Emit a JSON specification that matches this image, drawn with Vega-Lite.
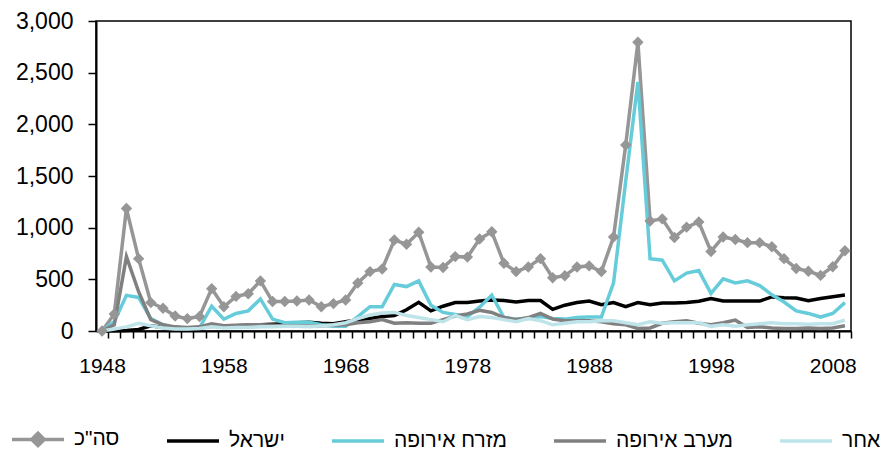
{
  "$schema": "https://vega.github.io/schema/vega-lite/v6.json",
  "width": 755,
  "height": 310,
  "autosize": {"type": "none"},
  "padding": {"left": 96, "top": 21, "right": 38, "bottom": 127},
  "background": "white",
  "config": {
    "font": "Liberation Sans",
    "view": {"stroke": "#000000", "strokeWidth": 1.5}
  },
  "data": {"values": [
    {"year":1948,"series":"סה\"כ","value":0},{"year":1949,"series":"סה\"כ","value":165},{"year":1950,"series":"סה\"כ","value":1185},{"year":1951,"series":"סה\"כ","value":700},{"year":1952,"series":"סה\"כ","value":275},{"year":1953,"series":"סה\"כ","value":220},{"year":1954,"series":"סה\"כ","value":145},{"year":1955,"series":"סה\"כ","value":120},{"year":1956,"series":"סה\"כ","value":140},{"year":1957,"series":"סה\"כ","value":410},
    {"year":1958,"series":"סה\"כ","value":235},{"year":1959,"series":"סה\"כ","value":335},{"year":1960,"series":"סה\"כ","value":360},{"year":1961,"series":"סה\"כ","value":485},{"year":1962,"series":"סה\"כ","value":285},{"year":1963,"series":"סה\"כ","value":285},{"year":1964,"series":"סה\"כ","value":290},{"year":1965,"series":"סה\"כ","value":300},{"year":1966,"series":"סה\"כ","value":235},{"year":1967,"series":"סה\"כ","value":265},
    {"year":1968,"series":"סה\"כ","value":300},{"year":1969,"series":"סה\"כ","value":465},{"year":1970,"series":"סה\"כ","value":575},{"year":1971,"series":"סה\"כ","value":600},{"year":1972,"series":"סה\"כ","value":880},{"year":1973,"series":"סה\"כ","value":840},{"year":1974,"series":"סה\"כ","value":955},{"year":1975,"series":"סה\"כ","value":620},{"year":1976,"series":"סה\"כ","value":615},{"year":1977,"series":"סה\"כ","value":720},
    {"year":1978,"series":"סה\"כ","value":715},{"year":1979,"series":"סה\"כ","value":890},{"year":1980,"series":"סה\"כ","value":960},{"year":1981,"series":"סה\"כ","value":655},{"year":1982,"series":"סה\"כ","value":575},{"year":1983,"series":"סה\"כ","value":620},{"year":1984,"series":"סה\"כ","value":700},{"year":1985,"series":"סה\"כ","value":515},{"year":1986,"series":"סה\"כ","value":535},{"year":1987,"series":"סה\"כ","value":620},
    {"year":1988,"series":"סה\"כ","value":630},{"year":1989,"series":"סה\"כ","value":575},{"year":1990,"series":"סה\"כ","value":910},{"year":1991,"series":"סה\"כ","value":1800},{"year":1992,"series":"סה\"כ","value":2795},{"year":1993,"series":"סה\"כ","value":1065},{"year":1994,"series":"סה\"כ","value":1085},{"year":1995,"series":"סה\"כ","value":905},{"year":1996,"series":"סה\"כ","value":1005},{"year":1997,"series":"סה\"כ","value":1055},
    {"year":1998,"series":"סה\"כ","value":770},{"year":1999,"series":"סה\"כ","value":910},{"year":2000,"series":"סה\"כ","value":885},{"year":2001,"series":"סה\"כ","value":855},{"year":2002,"series":"סה\"כ","value":855},{"year":2003,"series":"סה\"כ","value":815},{"year":2004,"series":"סה\"כ","value":700},{"year":2005,"series":"סה\"כ","value":605},{"year":2006,"series":"סה\"כ","value":578},{"year":2007,"series":"סה\"כ","value":538},
    {"year":2008,"series":"סה\"כ","value":622},{"year":2009,"series":"סה\"כ","value":776},

    {"year":1948,"series":"ישראל","value":0},{"year":1949,"series":"ישראל","value":3},{"year":1950,"series":"ישראל","value":5},{"year":1951,"series":"ישראל","value":15},{"year":1952,"series":"ישראל","value":50},{"year":1953,"series":"ישראל","value":35},{"year":1954,"series":"ישראל","value":30},{"year":1955,"series":"ישראל","value":25},{"year":1956,"series":"ישראל","value":30},{"year":1957,"series":"ישראל","value":45},
    {"year":1958,"series":"ישראל","value":45},{"year":1959,"series":"ישראל","value":50},{"year":1960,"series":"ישראל","value":55},{"year":1961,"series":"ישראל","value":60},{"year":1962,"series":"ישראל","value":65},{"year":1963,"series":"ישראל","value":70},{"year":1964,"series":"ישראל","value":80},{"year":1965,"series":"ישראל","value":85},{"year":1966,"series":"ישראל","value":75},{"year":1967,"series":"ישראל","value":70},
    {"year":1968,"series":"ישראל","value":90},{"year":1969,"series":"ישראל","value":110},{"year":1970,"series":"ישראל","value":120},{"year":1971,"series":"ישראל","value":140},{"year":1972,"series":"ישראל","value":150},{"year":1973,"series":"ישראל","value":205},{"year":1974,"series":"ישראל","value":278},{"year":1975,"series":"ישראל","value":195},{"year":1976,"series":"ישראל","value":240},{"year":1977,"series":"ישראל","value":275},
    {"year":1978,"series":"ישראל","value":275},{"year":1979,"series":"ישראל","value":290},{"year":1980,"series":"ישראל","value":300},{"year":1981,"series":"ישראל","value":295},{"year":1982,"series":"ישראל","value":280},{"year":1983,"series":"ישראל","value":295},{"year":1984,"series":"ישראל","value":295},{"year":1985,"series":"ישראל","value":210},{"year":1986,"series":"ישראל","value":250},{"year":1987,"series":"ישראל","value":275},
    {"year":1988,"series":"ישראל","value":290},{"year":1989,"series":"ישראל","value":255},{"year":1990,"series":"ישראל","value":275},{"year":1991,"series":"ישראל","value":235},{"year":1992,"series":"ישראל","value":275},{"year":1993,"series":"ישראל","value":255},{"year":1994,"series":"ישראל","value":272},{"year":1995,"series":"ישראל","value":272},{"year":1996,"series":"ישראל","value":275},{"year":1997,"series":"ישראל","value":288},
    {"year":1998,"series":"ישראל","value":315},{"year":1999,"series":"ישראל","value":290},{"year":2000,"series":"ישראל","value":290},{"year":2001,"series":"ישראל","value":290},{"year":2002,"series":"ישראל","value":290},{"year":2003,"series":"ישראל","value":330},{"year":2004,"series":"ישראל","value":322},{"year":2005,"series":"ישראל","value":320},{"year":2006,"series":"ישראל","value":292},{"year":2007,"series":"ישראל","value":315},
    {"year":2008,"series":"ישראל","value":332},{"year":2009,"series":"ישראל","value":348},

    {"year":1948,"series":"מזרח אירופה","value":0},{"year":1949,"series":"מזרח אירופה","value":90},{"year":1950,"series":"מזרח אירופה","value":345},{"year":1951,"series":"מזרח אירופה","value":325},{"year":1952,"series":"מזרח אירופה","value":120},{"year":1953,"series":"מזרח אירופה","value":60},{"year":1954,"series":"מזרח אירופה","value":30},{"year":1955,"series":"מזרח אירופה","value":25},{"year":1956,"series":"מזרח אירופה","value":30},{"year":1957,"series":"מזרח אירופה","value":240},
    {"year":1958,"series":"מזרח אירופה","value":115},{"year":1959,"series":"מזרח אירופה","value":170},{"year":1960,"series":"מזרח אירופה","value":195},{"year":1961,"series":"מזרח אירופה","value":310},{"year":1962,"series":"מזרח אירופה","value":115},{"year":1963,"series":"מזרח אירופה","value":80},{"year":1964,"series":"מזרח אירופה","value":85},{"year":1965,"series":"מזרח אירופה","value":85},{"year":1966,"series":"מזרח אירופה","value":60},{"year":1967,"series":"מזרח אירופה","value":45},
    {"year":1968,"series":"מזרח אירופה","value":45},{"year":1969,"series":"מזרח אירופה","value":140},{"year":1970,"series":"מזרח אירופה","value":235},{"year":1971,"series":"מזרח אירופה","value":235},{"year":1972,"series":"מזרח אירופה","value":450},{"year":1973,"series":"מזרח אירופה","value":430},{"year":1974,"series":"מזרח אירופה","value":485},{"year":1975,"series":"מזרח אירופה","value":250},{"year":1976,"series":"מזרח אירופה","value":180},{"year":1977,"series":"מזרח אירופה","value":160},
    {"year":1978,"series":"מזרח אירופה","value":140},{"year":1979,"series":"מזרח אירופה","value":230},{"year":1980,"series":"מזרח אירופה","value":348},{"year":1981,"series":"מזרח אירופה","value":130},{"year":1982,"series":"מזרח אירופה","value":115},{"year":1983,"series":"מזרח אירופה","value":120},{"year":1984,"series":"מזרח אירופה","value":140},{"year":1985,"series":"מזרח אירופה","value":120},{"year":1986,"series":"מזרח אירופה","value":115},{"year":1987,"series":"מזרח אירופה","value":130},
    {"year":1988,"series":"מזרח אירופה","value":135},{"year":1989,"series":"מזרח אירופה","value":135},{"year":1990,"series":"מזרח אירופה","value":465},{"year":1991,"series":"מזרח אירופה","value":1450},{"year":1992,"series":"מזרח אירופה","value":2410},{"year":1993,"series":"מזרח אירופה","value":700},{"year":1994,"series":"מזרח אירופה","value":685},{"year":1995,"series":"מזרח אירופה","value":485},{"year":1996,"series":"מזרח אירופה","value":560},{"year":1997,"series":"מזרח אירופה","value":585},
    {"year":1998,"series":"מזרח אירופה","value":365},{"year":1999,"series":"מזרח אירופה","value":505},{"year":2000,"series":"מזרח אירופה","value":465},{"year":2001,"series":"מזרח אירופה","value":485},{"year":2002,"series":"מזרח אירופה","value":440},{"year":2003,"series":"מזרח אירופה","value":350},{"year":2004,"series":"מזרח אירופה","value":280},{"year":2005,"series":"מזרח אירופה","value":195},{"year":2006,"series":"מזרח אירופה","value":170},{"year":2007,"series":"מזרח אירופה","value":135},
    {"year":2008,"series":"מזרח אירופה","value":170},{"year":2009,"series":"מזרח אירופה","value":275},

    {"year":1948,"series":"מערב אירופה","value":0},{"year":1949,"series":"מערב אירופה","value":60},{"year":1950,"series":"מערב אירופה","value":720},{"year":1951,"series":"מערב אירופה","value":380},{"year":1952,"series":"מערב אירופה","value":110},{"year":1953,"series":"מערב אירופה","value":60},{"year":1954,"series":"מערב אירופה","value":40},{"year":1955,"series":"מערב אירופה","value":35},{"year":1956,"series":"מערב אירופה","value":40},{"year":1957,"series":"מערב אירופה","value":70},
    {"year":1958,"series":"מערב אירופה","value":50},{"year":1959,"series":"מערב אירופה","value":55},{"year":1960,"series":"מערב אירופה","value":60},{"year":1961,"series":"מערב אירופה","value":60},{"year":1962,"series":"מערב אירופה","value":55},{"year":1963,"series":"מערב אירופה","value":50},{"year":1964,"series":"מערב אירופה","value":50},{"year":1965,"series":"מערב אירופה","value":45},{"year":1966,"series":"מערב אירופה","value":50},{"year":1967,"series":"מערב אירופה","value":55},
    {"year":1968,"series":"מערב אירופה","value":60},{"year":1969,"series":"מערב אירופה","value":80},{"year":1970,"series":"מערב אירופה","value":90},{"year":1971,"series":"מערב אירופה","value":110},{"year":1972,"series":"מערב אירופה","value":75},{"year":1973,"series":"מערב אירופה","value":80},{"year":1974,"series":"מערב אירופה","value":75},{"year":1975,"series":"מערב אירופה","value":75},{"year":1976,"series":"מערב אירופה","value":110},{"year":1977,"series":"מערב אירופה","value":145},
    {"year":1978,"series":"מערב אירופה","value":165},{"year":1979,"series":"מערב אירופה","value":200},{"year":1980,"series":"מערב אירופה","value":180},{"year":1981,"series":"מערב אירופה","value":130},{"year":1982,"series":"מערב אירופה","value":110},{"year":1983,"series":"מערב אירופה","value":130},{"year":1984,"series":"מערב אירופה","value":170},{"year":1985,"series":"מערב אירופה","value":115},{"year":1986,"series":"מערב אירופה","value":100},{"year":1987,"series":"מערב אירופה","value":100},
    {"year":1988,"series":"מערב אירופה","value":100},{"year":1989,"series":"מערב אירופה","value":90},{"year":1990,"series":"מערב אירופה","value":70},{"year":1991,"series":"מערב אירופה","value":60},{"year":1992,"series":"מערב אירופה","value":25},{"year":1993,"series":"מערב אירופה","value":30},{"year":1994,"series":"מערב אירופה","value":75},{"year":1995,"series":"מערב אירופה","value":90},{"year":1996,"series":"מערב אירופה","value":100},{"year":1997,"series":"מערב אירופה","value":75},
    {"year":1998,"series":"מערב אירופה","value":60},{"year":1999,"series":"מערב אירופה","value":80},{"year":2000,"series":"מערב אירופה","value":105},{"year":2001,"series":"מערב אירופה","value":35},{"year":2002,"series":"מערב אירופה","value":40},{"year":2003,"series":"מערב אירופה","value":30},{"year":2004,"series":"מערב אירופה","value":25},{"year":2005,"series":"מערב אירופה","value":25},{"year":2006,"series":"מערב אירופה","value":30},{"year":2007,"series":"מערב אירופה","value":25},
    {"year":2008,"series":"מערב אירופה","value":30},{"year":2009,"series":"מערב אירופה","value":50},

    {"year":1948,"series":"אחר","value":0},{"year":1949,"series":"אחר","value":20},{"year":1950,"series":"אחר","value":40},{"year":1951,"series":"אחר","value":75},{"year":1952,"series":"אחר","value":50},{"year":1953,"series":"אחר","value":30},{"year":1954,"series":"אחר","value":20},{"year":1955,"series":"אחר","value":20},{"year":1956,"series":"אחר","value":25},{"year":1957,"series":"אחר","value":40},
    {"year":1958,"series":"אחר","value":30},{"year":1959,"series":"אחר","value":35},{"year":1960,"series":"אחר","value":35},{"year":1961,"series":"אחר","value":40},{"year":1962,"series":"אחר","value":40},{"year":1963,"series":"אחר","value":45},{"year":1964,"series":"אחר","value":45},{"year":1965,"series":"אחר","value":40},{"year":1966,"series":"אחר","value":50},{"year":1967,"series":"אחר","value":60},
    {"year":1968,"series":"אחר","value":80},{"year":1969,"series":"אחר","value":120},{"year":1970,"series":"אחר","value":155},{"year":1971,"series":"אחר","value":175},{"year":1972,"series":"אחר","value":180},{"year":1973,"series":"אחר","value":150},{"year":1974,"series":"אחר","value":130},{"year":1975,"series":"אחר","value":110},{"year":1976,"series":"אחר","value":90},{"year":1977,"series":"אחר","value":150},
    {"year":1978,"series":"אחר","value":110},{"year":1979,"series":"אחר","value":140},{"year":1980,"series":"אחר","value":130},{"year":1981,"series":"אחר","value":110},{"year":1982,"series":"אחר","value":90},{"year":1983,"series":"אחר","value":120},{"year":1984,"series":"אחר","value":100},{"year":1985,"series":"אחר","value":60},{"year":1986,"series":"אחר","value":75},{"year":1987,"series":"אחר","value":90},
    {"year":1988,"series":"אחר","value":90},{"year":1989,"series":"אחר","value":100},{"year":1990,"series":"אחר","value":100},{"year":1991,"series":"אחר","value":80},{"year":1992,"series":"אחר","value":60},{"year":1993,"series":"אחר","value":90},{"year":1994,"series":"אחר","value":75},{"year":1995,"series":"אחר","value":80},{"year":1996,"series":"אחר","value":80},{"year":1997,"series":"אחר","value":80},
    {"year":1998,"series":"אחר","value":45},{"year":1999,"series":"אחר","value":60},{"year":2000,"series":"אחר","value":45},{"year":2001,"series":"אחר","value":60},{"year":2002,"series":"אחר","value":70},{"year":2003,"series":"אחר","value":80},{"year":2004,"series":"אחר","value":70},{"year":2005,"series":"אחר","value":70},{"year":2006,"series":"אחר","value":65},{"year":2007,"series":"אחר","value":70},
    {"year":2008,"series":"אחר","value":70},{"year":2009,"series":"אחר","value":105}
  ]},
  "encoding": {
    "x": {
      "field": "year", "type": "quantitative",
      "scale": {"domain": [1947.5, 2009.5], "nice": false, "zero": false},
      "axis": {
        "title": null,
        "values": [1948,1949,1950,1951,1952,1953,1954,1955,1956,1957,1958,1959,1960,1961,1962,1963,1964,1965,1966,1967,1968,1969,1970,1971,1972,1973,1974,1975,1976,1977,1978,1979,1980,1981,1982,1983,1984,1985,1986,1987,1988,1989,1990,1991,1992,1993,1994,1995,1996,1997,1998,1999,2000,2001,2002,2003,2004,2005,2006,2007,2008,2009],
        "format": "d",
        "labelExpr": "(datum.value - 1948) % 10 == 0 ? datum.label : ''",
        "tickOffset": 6.09,
        "labelOffset": -6.09,
        "labelOverlap": false,
        "labelFlush": false,
        "grid": false,
        "tickSize": 7,
        "tickWidth": 1.5,
        "tickColor": "#000000",
        "domainColor": "#000000",
        "domainWidth": 2,
        "labelFontSize": 21,
        "labelColor": "#000000",
        "labelPadding": 17
      }
    },
    "y": {
      "field": "value", "type": "quantitative",
      "scale": {"domain": [0, 3000], "nice": false},
      "axis": {
        "title": null,
        "values": [0, 500, 1000, 1500, 2000, 2500, 3000],
        "format": ",.0f",
        "grid": false,
        "tickSize": 8,
        "tickWidth": 1.5,
        "tickColor": "#000000",
        "domainColor": "#000000",
        "domainWidth": 2,
        "labelFontSize": 23,
        "labelColor": "#000000",
        "labelPadding": 15
      }
    }
  },
  "layer": [
    {
      "mark": {"type": "line", "strokeWidth": 3.5},
      "encoding": {
        "color": {
          "field": "series", "type": "nominal",
          "scale": {
            "domain": ["סה\"כ", "ישראל", "מזרח אירופה", "מערב אירופה", "אחר"],
            "range": ["#969696", "#000000", "#66CCDA", "#808080", "#BEE4EA"]
          },
          "legend": {
            "title": null,
            "orient": "none",
            "legendX": -86,
            "legendY": 390,
            "direction": "horizontal",
            "symbolType": "stroke",
            "symbolSize": 2704,
            "symbolStrokeWidth": 3.5,
            "labelFontSize": 21,
            "labelColor": "#000000",
            "labelOffset": 8,
            "columnPadding": 40,
            "encode": {
              "symbols": {
                "update": {
                  "shape": {"signal": "datum.value == 'סה\"כ' ? 'M-1,0L1,0M-0.24,0L0,-0.24L0.24,0L0,0.24Z' : 'stroke'"},
                  "fill": {"signal": "datum.value == 'סה\"כ' ? '#969696' : 'transparent'"}
                }
              }
            }
          }
        }
      }
    },
    {
      "transform": [{"filter": "datum.series == 'סה\"כ'"}],
      "mark": {"type": "point", "shape": "diamond", "filled": true, "size": 130, "opacity": 1, "color": "#969696"},
      "encoding": {}
    }
  ]
}
